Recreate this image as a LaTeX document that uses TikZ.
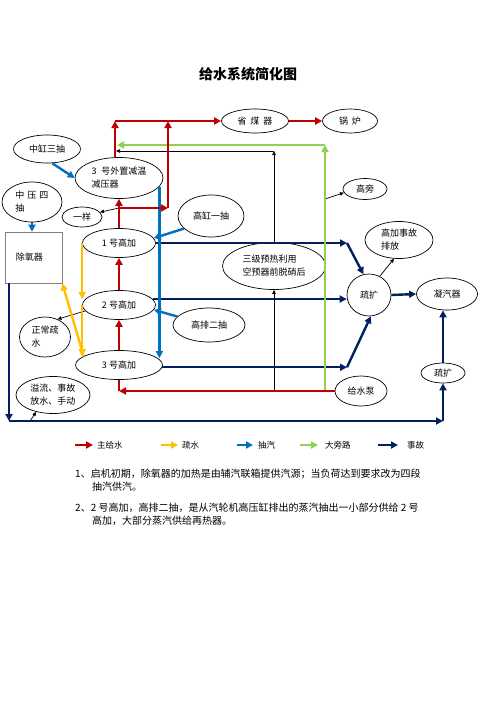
\documentclass[tikz,border=0pt]{standalone}
\usepackage{fontspec}
\setmainfont{Noto Sans CJK SC}
\usetikzlibrary{shapes.geometric,arrows.meta,calc}
\definecolor{cred}{RGB}{192,0,0}
\definecolor{cyel}{RGB}{255,192,0}
\definecolor{cblu}{RGB}{0,112,192}
\definecolor{cgrn}{RGB}{146,208,80}
\definecolor{cnav}{RGB}{0,32,96}
\begin{document}
\begin{tikzpicture}[x=1pt,y=-1pt,
  el/.style={ellipse,draw,line width=0.7pt,inner sep=0pt,font=\fontsize{9}{13}\selectfont},
  fl/.style={line width=2.4pt,-{Triangle[length=7pt,width=7pt]}},
  pl/.style={line width=2.4pt},
  tl/.style={line width=0.7pt,-{Triangle[length=4pt,width=3.5pt]}},
  lg/.style={anchor=west,inner sep=0pt,font=\fontsize{8.5}{10}\selectfont},
  nt/.style={anchor=west,inner sep=0pt,font=\fontsize{10}{12}\selectfont}
]
\useasboundingbox (0,0) rectangle (500,707);
\fill[white] (0,0) rectangle (500,707);

% title
\node[font=\fontsize{14}{16}\selectfont\bfseries] (title) at (248,74) {给水系统简化图};

% nodes
\node[el,minimum width=67pt,minimum height=24pt] (smq) at (255,121) {省\hspace{4pt}煤\hspace{4pt}器};
\node[el,minimum width=55pt,minimum height=24pt] (gl) at (350,121) {锅\hspace{4pt}炉};
\node[el,minimum width=67pt,minimum height=28pt] (zs) at (47,149) {中缸三抽};
\node[el,minimum width=88pt,minimum height=41pt,align=left] (ex) at (119,178) {3\hspace{5pt}号外置减温\\减压器};
\node[el,minimum width=60pt,minimum height=40pt,align=left] (zy) at (32,202) {中\hspace{3pt}压\hspace{3pt}四\\抽};
\node[el,minimum width=40pt,minimum height=20pt] (yy) at (82,217) {一样};
\node[rectangle,draw=gray,line width=0.7pt,minimum height=51pt,text width=35pt,inner xsep=11pt,align=left,font=\fontsize{9}{13}\selectfont] (cy) at (33.5,257.5) {除氧器};
\node[el,minimum width=73pt,minimum height=29pt] (n1) at (119,243) {1 号高加};
\node[el,minimum width=66pt,minimum height=42pt] (gy) at (211,216) {高缸一抽};
\node[el,minimum width=73pt,minimum height=29pt] (n2) at (119,305) {2 号高加};
\node[el,minimum width=51pt,minimum height=40pt,align=left] (zc) at (45,337) {正常疏\\水};
\node[el,minimum width=72pt,minimum height=34pt] (gp) at (209,325) {高排二抽};
\node[el,minimum width=87pt,minimum height=29pt] (n3) at (119,365) {3 号高加};
\node[el,minimum width=74pt,minimum height=37pt,align=left] (yl) at (53,395) {溢流、事故\\放水、手动};
\node[el,minimum width=103pt,minimum height=47pt,align=left] (sj) at (274,266) {三级预热利用\\空预器前脱硝后};
\node[el,minimum width=44pt,minimum height=21pt] (gp2) at (365,189) {高旁};
\node[el,minimum width=68pt,minimum height=37pt,align=left] (gs) at (399,240) {高加事故\\排放};
\node[el,minimum width=44pt,minimum height=42pt] (sk) at (369,295) {疏扩};
\node[el,minimum width=61pt,minimum height=32pt] (nq) at (447,294) {凝汽器};
\node[el,minimum width=44pt,minimum height=20pt] (sk2) at (443,373) {疏扩};
\node[el,minimum width=52pt,minimum height=30pt] (gsb) at (361,391) {给水泵};

% coordinates
\coordinate (rj) at (119,208);
\coordinate (rc) at (168,208);
\coordinate (rt) at (168,121);
\coordinate (lt) at (115,121);
\coordinate (rb) at (119,391);
\coordinate (g1) at (325,391);
\coordinate (g2) at (325,145);
\coordinate (g3) at (117,145);
\coordinate (gb) at (325,199);
\coordinate (bl1) at (274,391);
\coordinate (bt) at (274,151);
\coordinate (bl) at (116,151);
\coordinate (a1) at (347,243);
\coordinate (a3) at (n3.-3 -| a1);
\coordinate (d1) at (9,421);
\coordinate (d2) at (443,421);
\coordinate (db) at (30,421);

% black thin
\draw[tl] (bl1) -- (sj.south);
\draw[tl] (sj.north) -- (bt);
\draw[tl] (bt) -- (bl);
\draw[tl] (rj) -- (yy.15);
\draw[tl] (n2.190) -- (zc.55);
\draw[tl] (db) -- (yl.-135);
\draw[tl] (gb) -- (gp2.-170);
\draw[tl] (sk.60) -- (gs.-105);

% navy
\draw[fl,cnav] (n1.east) -- (a1);
\draw[fl,cnav] (a1) -- (sk.105);
\draw[fl,cnav] (n2.10) -- (n2.10 -| sk.west);
\draw[fl,cnav] (n3.-3) -- (a3);
\draw[fl,cnav] (a3) -- (sk.-85);
\draw[fl,cnav] (sk.east) -- (nq.west);
\draw[fl,cnav] (d1 |- cy.south) -- (d1);
\draw[fl,cnav] (d1) -- (d2);
\draw[fl,cnav] (d2) -- (sk2.south);
\draw[fl,cnav] (sk2.north) -- (sk2.north |- nq.south);

% blue
\draw[fl,cblu] (zs.-70) -- (ex.west);
\draw[fl,cblu] (zy.south) -- (zy.south |- cy.north);
\draw[fl,cblu] (ex.-12) -- (ex.-12 |- n3.10);
\draw[fl,cblu] (gy.205) -- (n1.8);
\draw[fl,cblu] (gp.165) -- (n2.-8);

% yellow
\draw[fl,cyel] (n1.west) -- (n1.west |- n2.170);
\draw[fl,cyel] (n2.west) -- (n2.west |- n3.166);
\draw[fl,cyel] (n3.166) -- (cy.south east);

% green
\draw[fl,cgrn] (g1) -- (g2);
\draw[fl,cgrn] (g2) -- (g3);

% red
\draw[fl,cred] (gsb.west) -- (rb);
\draw[pl,cred] (rb) -- (n3.south);
\draw[fl,cred] (n3.north) -- (n2.south);
\draw[fl,cred] (n2.north) -- (n1.south);
\draw[fl,cred] (n1.north) -- (ex.south);
\draw[fl,cred] (rj) -- (rc);
\draw[fl,cred] (rc) -- (rt);
\draw[fl,cred] (ex.north -| lt) -- (lt);
\draw[fl,cred] (lt) -- (smq.west);
\draw[fl,cred] (smq.east) -- (gl.west);

% legend
\coordinate (l1a) at (75,445); \coordinate (l1b) at (93,445);
\coordinate (l2a) at (161,445); \coordinate (l2b) at (178,445);
\coordinate (l3a) at (237,445); \coordinate (l3b) at (253,445);
\coordinate (l4a) at (300,445); \coordinate (l4b) at (318,445);
\coordinate (l5a) at (378,445); \coordinate (l5b) at (398,445);
\draw[fl,cred] (l1a) -- (l1b);
\draw[fl,cyel] (l2a) -- (l2b);
\draw[fl,cblu] (l3a) -- (l3b);
\draw[fl,cgrn] (l4a) -- (l4b);
\draw[fl,cnav] (l5a) -- (l5b);
\node[lg] (t1) at (97,445) {主给水};
\node[lg] (t2) at (182,445) {疏水};
\node[lg] (t3) at (258,445) {抽汽};
\node[lg] (t4) at (325,445) {大旁路};
\node[lg] (t5) at (407,445) {事故};

% notes
\node[nt] (nt1) at (75,474) {1、启机初期，除氧器的加热是由辅汽联箱提供汽源；当负荷达到要求改为四段};
\node[nt] (nt2) at (92,487) {抽汽供汽。};
\node[nt] (nt3) at (75,508) {2、2 号高加，高排二抽，是从汽轮机高压缸排出的蒸汽抽出一小部分供给 2 号};
\node[nt] (nt4) at (92,521) {高加，大部分蒸汽供给再热器。};
\end{tikzpicture}
\end{document}
